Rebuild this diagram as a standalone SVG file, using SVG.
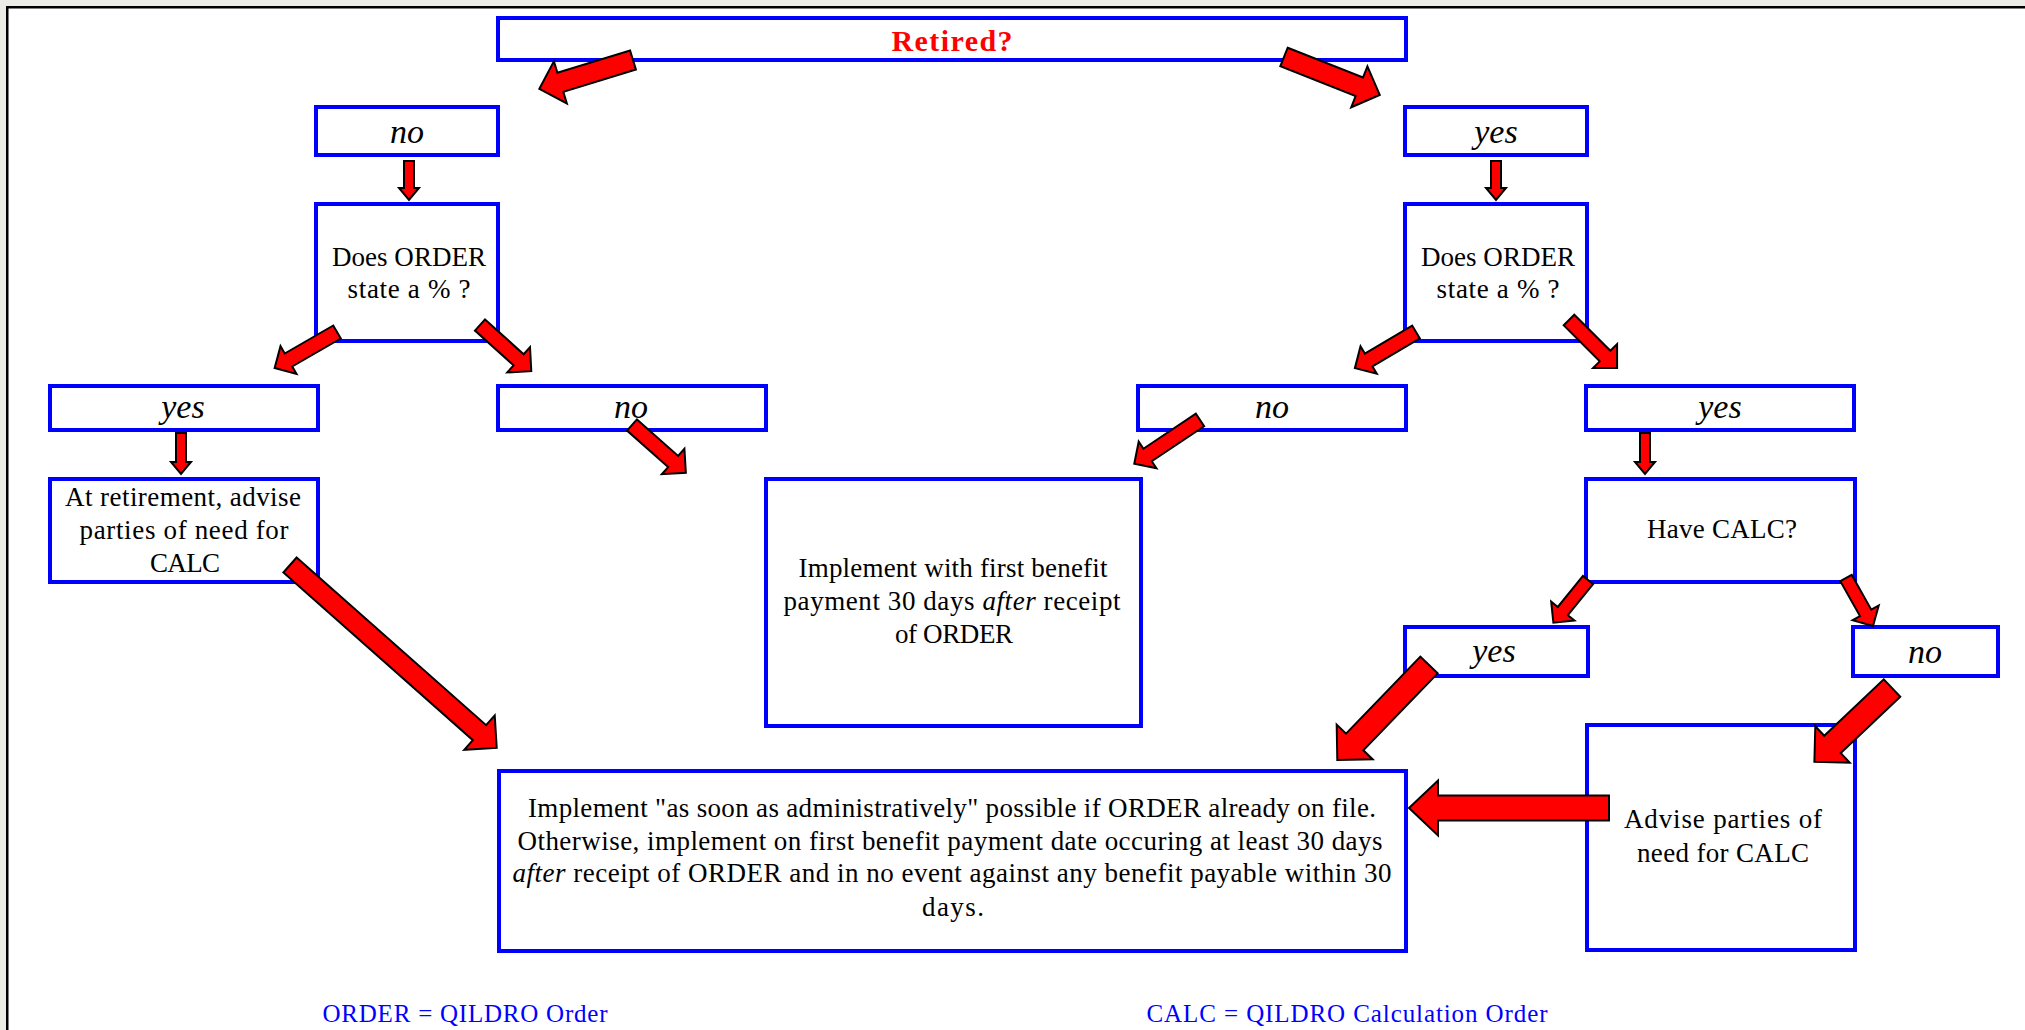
<svg xmlns="http://www.w3.org/2000/svg" width="2025" height="1030" viewBox="0 0 2025 1030">
<style>
.box{fill:#fff;stroke:#0000FF;stroke-width:4}
.t{font-family:"Liberation Serif","Times New Roman",serif;font-size:27px;fill:#000;text-anchor:middle}
.lbl{font-family:"Liberation Serif","Times New Roman",serif;font-size:34px;font-style:italic;fill:#000;text-anchor:middle}
.leg{font-family:"Liberation Serif","Times New Roman",serif;font-size:25px;fill:#0000FF;text-anchor:middle}
.arr{fill:#FF0000;stroke:#000;stroke-width:2;stroke-linejoin:miter}
</style>
<rect x="0" y="0" width="2025" height="1030" fill="#ECECE7"/>
<rect x="8" y="8" width="2017" height="1022" fill="#fff"/>
<rect x="6" y="6" width="2019" height="2.5" fill="#000"/>
<rect x="6" y="6" width="2.5" height="1024" fill="#000"/>

<g id="retired"><rect class="box" x="498" y="18" width="908" height="42"/><text x="952" y="51" font-family="Liberation Serif, serif" font-size="30" font-weight="bold" fill="#FF0000" text-anchor="middle" textLength="121">Retired?</text></g>
<g id="no1"><rect class="box" x="316" y="107" width="182" height="48"/><text class="lbl" x="407" y="143">no</text></g>
<g id="yes1"><rect class="box" x="1405" y="107" width="182" height="48"/><text class="lbl" x="1496" y="143">yes</text></g>
<g id="q1"><rect class="box" x="316" y="204" width="182" height="137"/><text class="t" x="409" y="266" textLength="154">Does ORDER</text><text class="t" x="409" y="298" textLength="123">state a % ?</text></g>
<g id="q2"><rect class="box" x="1405" y="204" width="182" height="137"/><text class="t" x="1498" y="266" textLength="154">Does ORDER</text><text class="t" x="1498" y="298" textLength="123">state a % ?</text></g>
<g id="yes2"><rect class="box" x="50" y="386" width="268" height="44"/><text class="lbl" x="183" y="418">yes</text></g>
<g id="no2"><rect class="box" x="498" y="386" width="268" height="44"/><text class="lbl" x="631" y="418">no</text></g>
<g id="no3"><rect class="box" x="1138" y="386" width="268" height="44"/><text class="lbl" x="1272" y="418">no</text></g>
<g id="yes3"><rect class="box" x="1586" y="386" width="268" height="44"/><text class="lbl" x="1720" y="418">yes</text></g>
<g id="atret"><rect class="box" x="50" y="479" width="268" height="103"/><text class="t" x="183" y="506" textLength="236">At retirement, advise</text><text class="t" x="184" y="539" textLength="209">parties of need for</text><text class="t" x="185" y="572" textLength="70">CALC</text></g>
<g id="impl30"><rect class="box" x="766" y="479" width="375" height="247"/><text class="t" x="953" y="577" textLength="309">Implement with first benefit</text><text class="t" x="952" y="610" textLength="337">payment 30 days <tspan font-style="italic">after</tspan> receipt</text><text class="t" x="954" y="643" textLength="118">of ORDER</text></g>
<g id="havecalc"><rect class="box" x="1586" y="479" width="269" height="103"/><text class="t" x="1722" y="538" textLength="150">Have CALC?</text></g>
<g id="yes4"><rect class="box" x="1405" y="627" width="183" height="49"/><text class="lbl" x="1494" y="662">yes</text></g>
<g id="no4"><rect class="box" x="1853" y="627" width="145" height="49"/><text class="lbl" x="1925" y="663">no</text></g>
<g id="implasap"><rect class="box" x="499" y="771" width="907" height="180"/><text class="t" x="952" y="817" textLength="848">Implement "as soon as administratively" possible if ORDER already on file.</text><text class="t" x="950" y="850" textLength="865">Otherwise, implement on first benefit payment date occuring at least 30 days</text><text class="t" x="952" y="882" textLength="879"><tspan font-style="italic">after</tspan> receipt of ORDER and in no event against any benefit payable within 30</text><text class="t" x="953" y="916" textLength="62">days.</text></g>
<g id="advise"><rect class="box" x="1587" y="725" width="268" height="225"/><text class="t" x="1723" y="828" textLength="198">Advise parties of</text><text class="t" x="1723" y="862" textLength="172">need for CALC</text></g>
<g id="legend"><text class="leg" x="465" y="1022" textLength="285">ORDER = QILDRO Order</text><text class="leg" x="1347" y="1022" textLength="401">CALC = QILDRO Calculation Order</text></g>

<g id="connectors">
<g transform="translate(633,60) rotate(162.9)"><polygon class="arr" points="0,-10 76,-10 76,-22 98,0 76,22 76,10 0,10"/></g>
<g transform="translate(1284,57) rotate(21.6)"><polygon class="arr" points="0,-10 81,-10 81,-22 103,0 81,22 81,10 0,10"/></g>
<g transform="translate(409,161) rotate(90)"><polygon class="arr" points="0,-5 27,-5 27,-10 39,0 27,10 27,5 0,5"/></g>
<g transform="translate(1496,161) rotate(90)"><polygon class="arr" points="0,-5 27,-5 27,-10 39,0 27,10 27,5 0,5"/></g>
<g transform="translate(181,433) rotate(90)"><polygon class="arr" points="0,-5 29,-5 29,-10 41,0 29,10 29,5 0,5"/></g>
<g transform="translate(1645,433) rotate(90)"><polygon class="arr" points="0,-5 29,-5 29,-10 41,0 29,10 29,5 0,5"/></g>
<g transform="translate(337,332) rotate(150)"><polygon class="arr" points="0,-7.5 56,-7.5 56,-16 72,0 56,16 56,7.5 0,7.5"/></g>
<g transform="translate(480,325) rotate(42)"><polygon class="arr" points="0,-7.5 52,-7.5 52,-17 69,0 52,17 52,7.5 0,7.5"/></g>
<g transform="translate(632,425) rotate(41.6)"><polygon class="arr" points="0,-7.5 55,-7.5 55,-17 72,0 55,17 55,7.5 0,7.5"/></g>
<g transform="translate(1416,332) rotate(149.4)"><polygon class="arr" points="0,-7.5 55,-7.5 55,-16 71,0 55,16 55,7.5 0,7.5"/></g>
<g transform="translate(1569,320) rotate(45)"><polygon class="arr" points="0,-7.5 51,-7.5 51,-17 68,0 51,17 51,7.5 0,7.5"/></g>
<g transform="translate(1200,420) rotate(146.3)"><polygon class="arr" points="0,-7.5 63,-7.5 63,-16 79,0 63,16 63,7.5 0,7.5"/></g>
<g transform="translate(290,565) rotate(41.5)"><polygon class="arr" points="0,-10 253,-10 253,-23 276,0 253,23 253,10 0,10"/></g>
<g transform="translate(1588,580) rotate(129)"><polygon class="arr" points="0,-6.5 40,-6.5 40,-15 55,0 40,15 40,6.5 0,6.5"/></g>
<g transform="translate(1846,578) rotate(60.6)"><polygon class="arr" points="0,-6.5 40,-6.5 40,-15 55,0 40,15 40,6.5 0,6.5"/></g>
<g transform="translate(1429,665) rotate(134)"><polygon class="arr" points="0,-12 107,-12 107,-25 132,0 107,25 107,12 0,12"/></g>
<g transform="translate(1892,688) rotate(136.5)"><polygon class="arr" points="0,-12 82,-12 82,-25 107,0 82,25 82,12 0,12"/></g>
<g transform="translate(1609,808) rotate(180)"><polygon class="arr" points="0,-12.5 171,-12.5 171,-27.5 200,0 171,27.5 171,12.5 0,12.5"/></g>
</g>
</svg>
